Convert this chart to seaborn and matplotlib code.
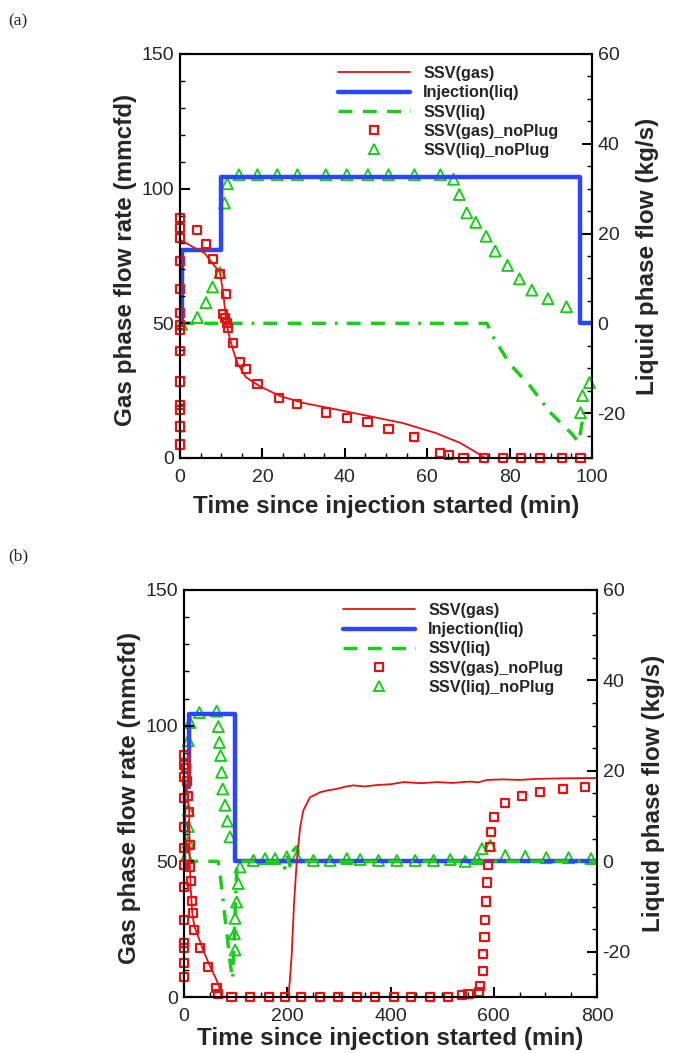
import numpy as np
import pandas as pd
import matplotlib
matplotlib.use("Agg")
import matplotlib.pyplot as plt
from matplotlib.lines import Line2D
from matplotlib.ticker import MultipleLocator
import seaborn as sns

# ---------------- data: panel (a), 0-100 min ----------------
a_gas_t = [0, 3, 6, 8, 9.7, 10.5, 11.3, 12, 12.9, 14, 16, 19.4, 24.3, 30, 38, 46, 54, 62, 68, 72, 74, 100]
a_gas_v = [81, 78.5, 76, 72, 69, 61, 50, 45, 40, 35, 30, 26.6, 23, 20.4, 18, 15.5, 13, 9.3, 5.6, 2, 0, 0]

a_inj_t = [0, 0.5, 0.5, 10, 10, 97, 97, 100]
a_inj_v = [0, 0, 16.4, 16.4, 32.7, 32.7, 0, 0]

a_liq_t = [0, 74.5, 76, 78, 80, 85, 90, 95, 96.8, 97.8]
a_liq_v = [0, 0, -3, -6, -9, -14, -20, -24.5, -26.5, -21]

a_gnp_t = [0] * 14 + [4.2, 6.3, 8.1, 9.7, 11.2, 10.5, 10.9, 11.3, 11.7, 12.8, 14.6, 16, 18.8, 24,
                      28.5, 35.4, 40.5, 45.5, 50.6, 56.9, 63.2, 65.2, 68.8, 73.7, 78.4, 82.8,
                      87.3, 92.7, 97.2]
a_gnp_v = [89, 85.3, 81.6, 73, 62.7, 53.8, 49.5, 47.6, 39.6, 28.4, 19.8, 17.9, 11.7, 5,
           84.5, 79.5, 74, 68.3, 61, 53.5, 52, 50, 48.2, 42.7, 35.5, 33, 27.6, 22.3,
           20.2, 16.9, 14.8, 13.2, 10.8, 7.8, 1.9, 1, 0, 0, 0, 0, 0, 0, 0]

a_lnp_t = [0.4, 4.2, 6.3, 7.9, 9.7, 10.8, 11.5, 14.3, 18.8, 23.6, 28.5, 35.4, 40.5, 45.6, 50.6,
           56.9, 63.2, 66.4, 67.8, 69.6, 71.8, 74.3, 76.5, 79.5, 82.4, 85.4, 89.3, 93.8,
           97.2, 97.7, 99.4]
a_lnp_v = [-0.2, 1.3, 4.6, 8.1, 11.3, 26.8, 31.1, 33.1, 33.1, 33.1, 33.1, 33.1, 33.1, 33.1, 33.1,
           33.1, 33.1, 32.1, 28.7, 24.6, 22.5, 19.4, 16.1, 12.9, 9.9, 7.4, 5.5, 3.7,
           -19.9, -16.1, -13.2]

# ---------------- data: panel (b), 0-800 min ----------------
b_gas_t = [0, 5, 10, 11, 13, 16, 20, 30, 37.5, 50, 60, 66.6, 73, 202, 205, 208.7, 213, 218.4,
           225, 231, 244, 264, 280, 296, 312, 328, 350, 373, 400, 425, 460, 490, 520, 554,
           570, 587, 619, 650, 684, 740, 800]
b_gas_v = [81, 77, 69, 50, 40, 31, 26, 21, 17, 11.5, 7.5, 4.7, 0, 0, 6, 15.8, 34, 50,
           62.6, 68.7, 73.6, 75.5, 76.2, 76.7, 77.5, 78, 77.6, 78.1, 78.4, 79.2, 78.8, 79.2,
           78.9, 79.4, 79.1, 80, 80.2, 80.0, 80.4, 80.6, 80.7]

b_inj_t = [0, 0.5, 0.5, 10, 10, 98.5, 98.5, 800]
b_inj_v = [0, 0, 16.4, 16.4, 32.5, 32.5, 0, 0]

b_liq_t = [0, 66, 70, 75, 80, 85, 90, 94.3, 97, 100, 103, 190, 195, 200, 205, 212, 218, 224, 230, 800]
b_liq_v = [0, 0, -3, -8, -13, -18, -23, -26, -18, -8, 0, 0, -1.5, 1, -1, 2.5, 3.2, 1, 0, 0]

b_gnp_t = [0] * 13 + [4.2, 6.3, 8.1, 9.7, 11, 12, 13, 15, 18, 20, 31, 47, 63, 65,
                      92, 128, 165, 196, 227, 264, 299, 335, 370, 406, 440, 476, 511,
                      538, 551, 571, 574, 579, 580, 582, 583.5, 585.5, 587, 589, 592,
                      594.5, 601, 622, 654.6, 689, 733.4, 776]
b_gnp_v = [89.2, 85.5, 81.2, 73.2, 62.8, 54.8, 48.7, 40.7, 28.4, 19.8, 17.9, 12.4, 7.5,
           84.5, 79.5, 74, 68.3, 56, 48, 42.7, 35.5, 31, 24.7, 17.9, 11.2, 3.3, 1,
           0, 0, 0, 0, 0, 0, 0, 0, 0, 0, 0, 0, 0,
           0.7, 1, 2, 4, 9.6, 15.8, 22, 28.3, 35.2, 42.2, 48.7, 55.4,
           60.7, 66.5, 71.4, 74, 75.7, 76.6, 77.3]

b_lnp_t = [5, 8.4, 8.4, 8.4, 8.4, 11.6, 29.7, 63.3, 66.5, 68.5, 71, 73, 75, 79.5, 84, 89,
           108.6, 105, 102, 99, 97.6, 99,
           134.4, 157, 176.4, 199, 218.4, 250.7, 283, 315.3, 341.2, 376.7, 412.3, 447.8,
           483.4, 515.7, 544.7, 567.4, 577, 593.2, 622.3, 661, 701.8, 745, 788.4]
b_lnp_v = [1.4, 4.3, 7.7, 11.3, 26.7, 30.7, 32.9, 33.2, 29.8, 26.3, 23.4, 19.7, 16, 12.4, 8.9, 5.4,
           -1.25, -4.9, -9, -12.6, -16, -19.6,
           0.2, 0.6, 0.6, 1.0, 1.0, 0.2, 0.2, 0.6, 0.4, 0.2, 0.2, 0.2,
           0.2, 0.4, 0, 0.6, 2.8, 3.5, 1.3, 1.1, 0.8, 0.8, 0.6]

labels = ["SSV(gas)", "Injection(liq)", "SSV(liq)", "SSV(gas)_noPlug", "SSV(liq)_noPlug"]

RED = "#e01414"
BLUE = "#2a46ff"
GREEN = "#1ccc1c"
LIQ_DASH = (4.0, 3.0, 4.0, 3.0, 4.0, 2.6, 0.8, 2.6)

sns.set_theme(style="ticks")
plt.rcParams["font.family"] = ["Liberation Sans", "DejaVu Sans"]
plt.rcParams["axes.linewidth"] = 1.5
plt.rcParams["axes.edgecolor"] = "black"
plt.rcParams["axes.unicode_minus"] = False

fig = plt.figure(figsize=(6.75, 10.53), dpi=100)
W, H = 675.0, 1053.0
LABEL_SIZE = 17.5


def panel(rect, gas_t, gas_v, inj_t, inj_v, liq_t, liq_v, gnp_t, gnp_v, lnp_t, lnp_v,
          xmax, xmajor, xminor, leg_anchor, xlabel_y):
    ax = fig.add_axes(rect)
    ax2 = ax.twinx()
    ax.set_zorder(ax2.get_zorder() + 1)
    ax.patch.set_visible(False)

    # liquid-phase series on the right axis
    sns.lineplot(x=inj_t, y=inj_v, ax=ax2, color=BLUE, lw=3.2, sort=False, estimator=None)
    sns.lineplot(x=liq_t, y=liq_v, ax=ax2, color=GREEN, lw=2.5, sort=False, estimator=None)
    ax2.lines[-1].set_dashes(LIQ_DASH)
    sns.scatterplot(x=lnp_t, y=lnp_v, ax=ax2, marker="^", s=62, color=GREEN,
                    facecolor="none", edgecolor=GREEN, linewidth=1.4, clip_on=False)
    ax2.collections[-1].set_facecolor("none")

    # gas-phase series on the left axis
    sns.lineplot(x=gas_t, y=gas_v, ax=ax, color=RED, lw=1.3, sort=False, estimator=None)
    sns.scatterplot(x=gnp_t, y=gnp_v, ax=ax, marker="s", s=34, color=RED,
                    facecolor="none", edgecolor=RED, linewidth=1.6, clip_on=False)
    ax.collections[-1].set_facecolor("none")

    ax.set_xlim(0, xmax)
    ax.set_ylim(0, 150)
    ax2.set_ylim(-30, 60)

    ax.xaxis.set_major_locator(MultipleLocator(xmajor))
    ax.xaxis.set_minor_locator(MultipleLocator(xminor))
    ax.yaxis.set_major_locator(MultipleLocator(50))
    ax.yaxis.set_minor_locator(MultipleLocator(10))
    ax2.yaxis.set_major_locator(MultipleLocator(20))
    ax2.yaxis.set_minor_locator(MultipleLocator(5))

    ax.tick_params(axis="x", which="both", direction="in", top=False, bottom=True,
                   labelsize=14, pad=8, color="black")
    ax.tick_params(axis="y", which="both", direction="in", right=False, left=True,
                   labelsize=14, pad=4, color="black")
    ax2.tick_params(axis="y", which="both", direction="in", right=True, left=False,
                    labelsize=14, pad=4, color="black")
    for a in (ax, ax2):
        a.tick_params(which="major", length=7, width=1.5)
        a.tick_params(which="minor", length=3.5, width=1.0)
        for s in a.spines.values():
            s.set_visible(True)
            s.set_linewidth(1.5)
            s.set_color("black")

    ax.set_xlabel("Time since injection started (min)", fontsize=LABEL_SIZE, fontweight="bold")
    ax.set_ylabel("Gas phase flow rate (mmcfd)", fontsize=LABEL_SIZE, fontweight="bold")
    ax2.set_ylabel("Liquid phase flow (kg/s)", fontsize=LABEL_SIZE, fontweight="bold")
    ax.xaxis.set_label_coords(0.5, xlabel_y)
    ax.yaxis.set_label_coords(-0.105, 0.49)
    ax2.yaxis.set_label_coords(1.108, 0.5)
    ax.grid(False)
    ax2.grid(False)

    handles = [
        Line2D([], [], color=RED, lw=1.3),
        Line2D([], [], color=BLUE, lw=3.2),
        Line2D([], [], color=GREEN, lw=2.5, dashes=LIQ_DASH),
        Line2D([], [], ls="none", marker="s", ms=5.8, mfc="none", mec=RED, mew=1.6),
        Line2D([], [], ls="none", marker="^", ms=7.9, mfc="none", mec=GREEN, mew=1.4),
    ]
    ax.legend(handles, labels, loc="upper left", bbox_to_anchor=leg_anchor, frameon=False,
              prop={"weight": "bold", "size": 11.7}, handlelength=4.45, handletextpad=0.8,
              labelspacing=0.26, borderpad=0, borderaxespad=0, numpoints=1)
    return ax, ax2


panel([180 / W, 1 - 458 / H, 412 / W, 404 / H],
      a_gas_t, a_gas_v, a_inj_t, a_inj_v, a_liq_t, a_liq_v,
      a_gnp_t, a_gnp_v, a_lnp_t, a_lnp_v, 100, 20, 5, (0.383, 0.97), -0.092)
panel([184 / W, 1 - 997 / H, 413 / W, 407 / H],
      b_gas_t, b_gas_v, b_inj_t, b_inj_v, b_liq_t, b_liq_v,
      b_gnp_t, b_gnp_v, b_lnp_t, b_lnp_v, 800, 200, 50, (0.385, 0.968), -0.074)

fig.text(8 / W, 1 - 21 / H, "(a)", ha="left", va="center", fontsize=12.5,
         family=["Liberation Serif", "DejaVu Serif"])
fig.text(8 / W, 1 - 556 / H, "(b)", ha="left", va="center", fontsize=12.5,
         family=["Liberation Serif", "DejaVu Serif"])

fig.savefig("out.png", dpi=100, facecolor="white")
